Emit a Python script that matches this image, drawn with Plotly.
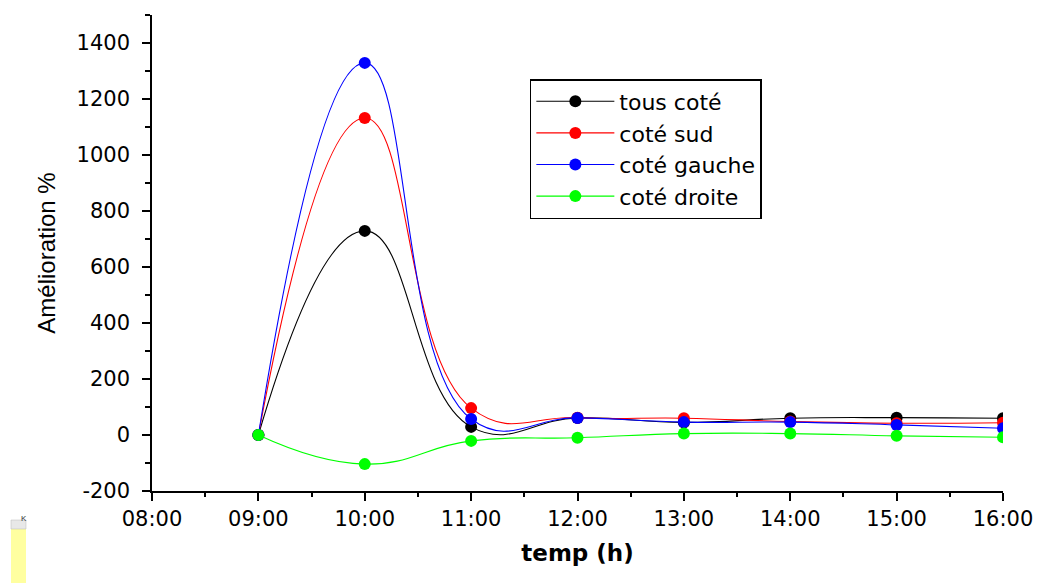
import plotly.graph_objects as go

hours = [9, 10, 11, 12, 13, 14, 15, 16]
tick_vals = [8, 9, 10, 11, 12, 13, 14, 15, 16]
tick_text = ["08:00", "09:00", "10:00", "11:00", "12:00", "13:00", "14:00", "15:00", "16:00"]
y_tick_vals = [-200, 0, 200, 400, 600, 800, 1000, 1200, 1400]
y_tick_text = ["-200", "0", "200", "400", "600", "800", "1000", "1200", "1400"]

tous_cote = [0, 729, 29, 61, 45, 60, 62, 60]
cote_sud = [0, 1132, 96, 62, 60, 48, 42, 44]
cote_gauche = [0, 1329, 57, 61, 46, 46, 36, 24]
cote_droite = [0, -104, -21, -10, 5, 5, -3, -8]

series = [
    ("tous coté", tous_cote, "#000000"),
    ("coté sud", cote_sud, "#ff0000"),
    ("coté gauche", cote_gauche, "#0000ff"),
    ("coté droite", cote_droite, "#00ff00"),
]

WIDE = "DejaVu Sans, Verdana, sans-serif"
ARIAL = "Liberation Sans, Arial, sans-serif"

fig = go.Figure()
for name, vals, col in series:
    fig.add_trace(go.Scatter(
        x=hours, y=vals, name=name, mode="lines+markers",
        line=dict(color=col, width=1.1, shape="spline", smoothing=1.3),
        marker=dict(color=col, size=12, symbol="circle"),
    ))

axis_common = dict(
    showline=True, linecolor="black", linewidth=1.5,
    ticks="outside", ticklen=8, tickwidth=1.5, tickcolor="black",
    showgrid=False, zeroline=False, mirror=False, automargin=False,
    tickfont=dict(family=WIDE, size=21, color="black"),
)

fig.update_xaxes(
    range=[8, 16], tickvals=tick_vals, ticktext=tick_text,
    minor=dict(ticks="outside", ticklen=4, tickwidth=1.5, tickcolor="black", dtick=0.5, tick0=8),
    title=dict(text="<b>temp (h)</b>", font=dict(family=WIDE, size=23, color="black"), standoff=15),
    ticklabelstandoff=0,
    **axis_common,
)
fig.update_yaxes(
    range=[-200, 1500], tickvals=y_tick_vals, ticktext=y_tick_text,
    minor=dict(ticks="outside", ticklen=5, tickwidth=1.5, tickcolor="black", dtick=100, tick0=0),
    title=dict(text="Amélioration %", font=dict(family=ARIAL, size=24, color="black"), standoff=14),
    ticklabelstandoff=8,
    **axis_common,
)

fig.update_layout(
    width=1040, height=583,
    margin=dict(l=152, r=37, t=15, b=92),
    plot_bgcolor="white", paper_bgcolor="white",
    font=dict(family=WIDE, color="black"),
    legend=dict(
        x=0.444, y=0.8655, xanchor="left", yanchor="top",
        bgcolor="white", bordercolor="black", borderwidth=1.5,
        font=dict(family=WIDE, size=22, color="black"),
        itemwidth=78, tracegroupgap=0,
    ),
    shapes=[
        dict(type="rect", xref="paper", yref="paper",
             x0=(11 - 152) / 851, x1=(26 - 152) / 851,
             y0=(491 - 583) / 476, y1=(491 - 529) / 476,
             fillcolor="#ffffa0", line=dict(width=0), layer="below"),
        dict(type="rect", xref="paper", yref="paper",
             x0=(11 - 152) / 851, x1=(26 - 152) / 851,
             y0=(491 - 529) / 476, y1=(491 - 520) / 476,
             fillcolor="#e8e8e8", line=dict(width=0.5, color="#bbbbbb"), layer="below"),
    ],
    annotations=[
        dict(text="K", xref="paper", yref="paper",
             x=(18.5 - 152) / 851, y=(491 - 524.5) / 476,
             showarrow=False, font=dict(family=ARIAL, size=8, color="#333333")),
    ],
    showlegend=True,
)

fig.write_html("out.html")
